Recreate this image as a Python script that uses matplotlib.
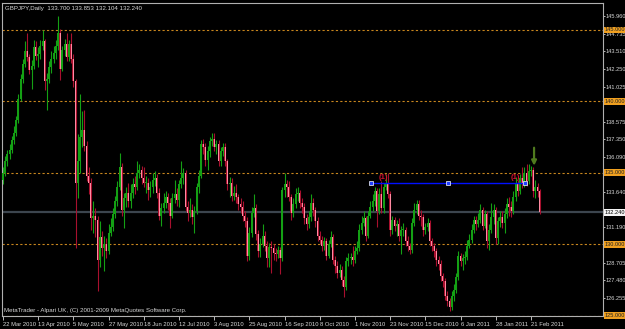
import matplotlib
matplotlib.use('Agg')
import matplotlib.pyplot as plt
import numpy as np

plt.rcParams['font.family'] = ['Liberation Sans Narrow', 'Liberation Sans', 'DejaVu Sans']

# daily GBPJPY bars (22 Mar 2010 .. 24 Feb 2011)
closes = [
    135.0, 135.8, 136.3, 136.6, 137.3, 137.8, 138.7, 140.2, 141.6, 142.6,
    143.5, 143.1, 142.2, 142.5, 143.8, 143.2, 143.3, 143.9, 144.2, 141.4,
    141.6, 142.4, 143.0, 143.4, 143.9, 144.8, 142.3, 143.6, 144.0, 143.1,
    144.0, 143.0, 141.4, 134.3, 135.8, 137.5, 138.0, 136.9, 134.8, 134.3,
    131.8, 132.0, 131.7, 128.9, 130.5, 129.7, 130.0, 129.5, 130.8, 131.2,
    132.1, 133.0, 134.0, 135.4, 132.4, 133.2, 133.6, 133.0, 133.6, 134.2,
    134.0, 135.0, 135.2, 134.6, 134.3, 134.3, 133.8, 134.0, 134.5, 134.6,
    133.6, 132.0, 132.5, 132.9, 133.3, 132.9, 132.0, 133.2, 133.5, 133.1,
    134.2, 134.6, 135.0, 132.6, 132.2, 132.4, 131.9, 132.3, 134.0, 134.8,
    137.0, 136.8, 135.9, 136.5, 137.2, 137.4, 136.8, 137.0, 135.8, 136.5,
    136.8, 135.8, 134.2, 134.3, 133.4, 133.6, 133.3, 132.8, 132.6, 132.0,
    131.6, 129.2, 130.8, 132.2, 132.5, 130.7, 129.5, 130.0, 130.6, 129.9,
    129.0, 129.8, 129.7, 129.4, 129.3, 129.6, 129.0, 133.8, 134.2, 134.0,
    133.3, 132.2, 132.8, 133.5, 133.6, 132.9, 132.6, 131.8, 131.4, 131.9,
    132.9, 132.4, 131.6, 130.6, 130.3, 129.9, 130.2, 129.2, 130.0, 130.5,
    128.9, 128.5, 128.0, 128.2, 127.5, 127.0, 128.8, 129.0, 129.1, 128.9,
    129.5, 129.7, 131.0, 131.5, 131.8, 130.6, 132.0, 132.6, 133.0, 133.7,
    132.3, 133.5, 132.5, 134.0, 134.3, 133.5, 131.0, 131.7, 131.3, 131.4,
    130.6, 131.0, 131.0, 130.2, 129.9, 129.6, 131.5, 132.4, 132.8, 132.0,
    131.9, 131.0, 131.2, 131.5, 130.2, 129.9, 129.5, 128.9, 128.6, 127.8,
    127.4, 126.4, 126.0, 125.6, 126.4, 126.8, 127.7, 129.2, 128.8, 129.0,
    129.1, 129.9, 130.3, 131.0, 131.7, 131.4, 131.7, 132.4, 131.3, 132.1,
    130.2, 131.0, 131.9, 132.4, 130.4, 131.6, 131.9, 131.5, 132.1, 132.8,
    132.6, 132.3, 133.3, 134.3, 133.7, 134.6, 134.2, 135.0, 134.4, 135.1,
    135.2, 133.7, 134.0, 133.7, 132.24,
]
highs = [
    135.4, 136.2, 136.6, 137.0, 137.6, 138.3, 139.0, 140.5, 141.9, 143.0,
    144.2, 144.8, 143.3, 142.9, 144.3, 144.2, 143.8, 144.3, 145.0, 144.4,
    142.0, 142.8, 143.5, 143.9, 144.3, 146.0, 145.1, 143.9, 144.4, 144.8,
    144.3, 144.8, 143.3, 141.6, 137.7, 140.5, 139.3, 139.4, 137.2, 135.4,
    134.6, 133.0, 132.5, 132.0, 131.6, 130.9, 130.6, 130.4, 131.4, 131.8,
    132.5, 133.4, 134.4, 136.4, 135.7, 133.6, 134.0, 134.3, 134.2, 134.6,
    134.8, 135.8, 135.6, 135.5, 135.4, 134.8, 134.6, 134.4, 135.0, 135.1,
    134.9, 133.9, 132.9, 133.6, 133.7, 133.6, 133.2, 133.6, 134.5, 133.9,
    134.5, 135.8, 135.3, 135.2, 133.0, 133.2, 132.8, 132.7, 134.3, 135.2,
    137.3, 137.4, 137.1, 136.9, 137.5, 137.8, 137.8, 137.3, 137.3, 136.8,
    137.1, 137.1, 136.0, 134.7, 134.6, 134.1, 134.2, 133.5, 133.2, 133.0,
    132.3, 131.9, 131.2, 132.6, 133.5, 132.8, 131.0, 130.4, 131.4, 130.9,
    130.2, 130.1, 130.2, 130.0, 129.7, 129.9, 129.8, 134.0, 135.0, 134.5,
    134.4, 133.5, 133.2, 133.9, 134.0, 133.8, 133.2, 132.9, 132.1, 132.3,
    133.5, 133.2, 132.6, 131.9, 130.9, 130.6, 130.5, 130.4, 130.3, 130.9,
    130.7, 129.2, 128.8, 128.6, 128.5, 127.8, 129.1, 129.4, 129.4, 129.9,
    129.9, 130.2, 131.4, 132.0, 132.3, 132.0, 132.3, 133.0, 133.5, 134.0,
    133.9, 133.9, 134.4, 134.3, 134.9, 135.0, 133.7, 132.0, 131.9, 131.7,
    131.8, 131.3, 131.5, 131.2, 130.6, 130.1, 131.8, 132.9, 133.1, 133.1,
    132.4, 132.1, 131.5, 131.8, 131.7, 130.4, 130.1, 129.7, 129.2, 128.9,
    128.0, 127.6, 126.7, 126.2, 126.7, 127.2, 128.0, 129.5, 129.4, 129.3,
    129.5, 130.3, 130.7, 131.4, 132.0, 132.0, 132.2, 132.8, 132.6, 132.4,
    132.3, 131.4, 132.9, 132.8, 132.6, 131.9, 132.3, 132.3, 132.5, 133.2,
    133.3, 133.0, 133.7, 134.7, 134.5, 134.9, 135.4, 135.4, 135.6, 135.6,
    135.5, 135.4, 134.5, 134.3, 133.853,
]
lows = [
    134.2, 134.8, 135.5, 136.0, 136.4, 137.0, 137.6, 138.5, 140.0, 141.3,
    142.4, 142.8, 141.9, 140.9, 142.3, 142.9, 142.4, 143.0, 143.6, 140.8,
    139.4, 141.3, 142.0, 142.7, 143.0, 143.6, 141.5, 142.1, 143.2, 142.8,
    142.8, 142.7, 141.0, 129.7, 133.2, 135.0, 136.8, 136.5, 134.4, 133.5,
    131.0, 130.8, 130.5, 126.7, 128.4, 129.2, 128.1, 129.0, 129.3, 130.6,
    130.9, 131.8, 132.7, 133.8, 132.0, 131.1, 132.6, 132.6, 132.5, 133.2,
    133.5, 133.8, 134.6, 134.2, 134.0, 133.6, 133.1, 133.3, 133.6, 134.1,
    133.2, 131.7, 131.3, 132.2, 132.5, 132.4, 131.1, 131.8, 132.9, 132.7,
    132.6, 133.9, 134.2, 132.3, 131.6, 131.9, 131.4, 130.8, 132.1, 133.6,
    134.6, 136.3, 135.5, 135.2, 136.1, 136.9, 136.5, 136.3, 135.5, 135.5,
    136.2, 135.5, 133.8, 133.3, 133.0, 133.1, 132.9, 132.4, 132.2, 131.6,
    131.2, 128.8, 128.9, 130.5, 131.9, 130.3, 129.1, 129.1, 129.8, 129.5,
    128.4, 128.4, 128.0, 128.9, 128.8, 129.0, 127.9, 128.8, 133.3, 133.3,
    133.0, 131.7, 131.9, 132.5, 133.0, 132.5, 132.2, 131.4, 131.0, 131.1,
    131.6, 132.0, 131.2, 130.2, 130.0, 129.5, 129.6, 128.9, 129.0, 129.8,
    128.6, 128.0, 127.6, 127.7, 127.1, 126.3, 126.8, 128.5, 128.6, 128.5,
    128.7, 129.3, 129.5, 130.7, 131.3, 130.2, 130.4, 131.8, 132.3, 132.7,
    131.2, 132.1, 132.2, 132.2, 133.8, 133.2, 130.6, 130.7, 130.9, 130.6,
    130.2, 129.3, 130.6, 129.9, 129.5, 129.3, 129.4, 131.3, 132.1, 131.7,
    131.3, 130.6, 130.7, 130.9, 129.9, 129.5, 129.1, 128.5, 128.2, 127.4,
    127.0, 126.1, 125.7, 125.3, 125.4, 126.0, 126.6, 127.5, 128.5, 128.2,
    128.6, 128.9, 129.7, 130.1, 130.8, 131.0, 131.2, 131.5, 131.0, 131.1,
    129.7, 129.6, 130.8, 131.4, 130.0, 130.0, 131.2, 131.1, 130.8, 131.8,
    132.0, 131.9, 132.1, 133.0, 133.4, 133.5, 133.9, 134.0, 134.1, 134.2,
    134.8, 133.3, 133.2, 133.3, 132.104,
]
first_open = 134.5
opens = [first_open] + closes[:-1]

date_labels = ['22 Mar 2010', '13 Apr 2010', '5 May 2010', '27 May 2010', '18 Jun 2010',
               '12 Jul 2010', '3 Aug 2010', '25 Aug 2010', '16 Sep 2010', '8 Oct 2010',
               '1 Nov 2010', '23 Nov 2010', '15 Dec 2010', '6 Jan 2011', '28 Jan 2011',
               '21 Feb 2011']
date_bars = [0, 16, 32, 48, 64, 80, 96, 112, 128, 144, 160, 176, 192, 208, 224, 240]

scale_labels = [145.960, 144.735, 143.510, 142.250, 141.025, 138.575, 137.350, 136.090,
                133.640, 131.190, 128.705, 127.480, 126.255]
round_levels = [145.0, 140.0, 135.0, 130.0, 125.0]
last_price = 132.240

trend_x = [167.3, 202.3, 237.3]
trend_y = [134.29, 134.29, 134.29]
wave_marks = [(172.7, 134.64), (232.7, 134.64)]
arrow_bar, arrow_top, arrow_tip = 241.4, 136.95, 135.3

bull = '#14a014'
bear_body = '#ff8aa2'
bear_wick = '#a8102e'
txt = '#d8d8d8'
fs = 4.4
fs_date = 4.2
fs_scale = 4.1

fig = plt.figure(figsize=(6.25, 3.29), dpi=100, facecolor='black')
ax = fig.add_axes([2 / 625, 1 - 316 / 329, 601 / 625, 313 / 329])
ax.set_facecolor('black')

for lv in round_levels:
    ax.axhline(lv, color='#c8861e', lw=0.8, ls=(0, (2, 2)), zorder=1)
ax.axhline(last_price, color='#3c454e', lw=1.6, zorder=1)

o = np.array(opens)
c = np.array(closes)
h = np.array(highs)
l = np.array(lows)
x = np.arange(len(c))
up = c >= o

ax.vlines(x[up], l[up], h[up], color=bull, lw=0.8, zorder=2)
ax.vlines(x[~up], l[~up], h[~up], color=bear_wick, lw=0.8, zorder=2)
body_lo = np.minimum(o, c)
body_h = np.maximum(np.abs(c - o), 0.06)
ax.bar(x[up], body_h[up], bottom=body_lo[up], width=0.9, color=bull, lw=0, zorder=3)
ax.bar(x[~up], body_h[~up], bottom=body_lo[~up], width=0.9, color=bear_wick, lw=0, zorder=3)
ax.bar(x[~up], body_h[~up], bottom=body_lo[~up], width=0.45, color=bear_body, lw=0, zorder=4)

# trendline, wave marks and signal arrow
ax.plot(trend_x, trend_y, color='#0010ff', lw=1, zorder=5)
ax.plot(trend_x, trend_y, ls='none', marker='s', ms=2.6, mfc='#2040ff', mec='white', mew=0.5, zorder=6)
for wx, wy in wave_marks:
    ax.text(wx, wy, '(1)', color='#d01030', fontsize=5.5, fontweight='bold', ha='center', va='center', zorder=6)
ax.annotate('', xy=(arrow_bar, arrow_tip), xytext=(arrow_bar, arrow_top),
            arrowprops=dict(arrowstyle='-|>', color='#4f7a1e', lw=1.6, mutation_scale=7), zorder=6)

ax.set_xlim(-0.45, -0.45 + 601 / 2.2)
ax.set_ylim(124.97, 146.89)

ax.yaxis.tick_right()
ax.set_yticks(scale_labels)
ax.set_yticklabels(['%.3f' % v for v in scale_labels])
ax.tick_params(axis='y', colors=txt, labelsize=fs_scale, length=1.5, pad=0.6, width=0.6)

ax.set_xticks(date_bars)
ax.set_xticklabels(date_labels, ha='left')
ax.tick_params(axis='x', colors=txt, labelsize=fs_date, length=3, pad=1.5, width=0.6)

for s in ax.spines.values():
    s.set_color('#b0b0b0')
    s.set_linewidth(0.8)

for lv in round_levels:
    ax.annotate('%.3f' % lv, xy=(1.0, lv), xycoords=('axes fraction', 'data'),
                xytext=(1.0, 0), textcoords='offset points', ha='left', va='center',
                fontsize=fs_scale, color='#202020', annotation_clip=False, zorder=10,
                bbox=dict(boxstyle='square,pad=0.15', fc='#f0a020', ec='none'))
ax.annotate('%.3f' % last_price, xy=(1.0, last_price), xycoords=('axes fraction', 'data'),
            xytext=(1.0, 0), textcoords='offset points', ha='left', va='center',
            fontsize=fs_scale, color='black', annotation_clip=False, zorder=10,
            bbox=dict(boxstyle='square,pad=0.15', fc='#f4f4f4', ec='none'))

ax.text(0.005, 0.992, 'GBPJPY,Daily  133.700 133.853 132.104 132.240', transform=ax.transAxes,
        color=txt, fontsize=fs, ha='left', va='top')
ax.text(0.003, 0.008, 'MetaTrader - Alpari UK, (C) 2001-2009 MetaQuotes Software Corp.',
        transform=ax.transAxes, color=txt, fontsize=fs, ha='left', va='bottom')

fig.savefig('out.png', dpi=100, facecolor='black')
